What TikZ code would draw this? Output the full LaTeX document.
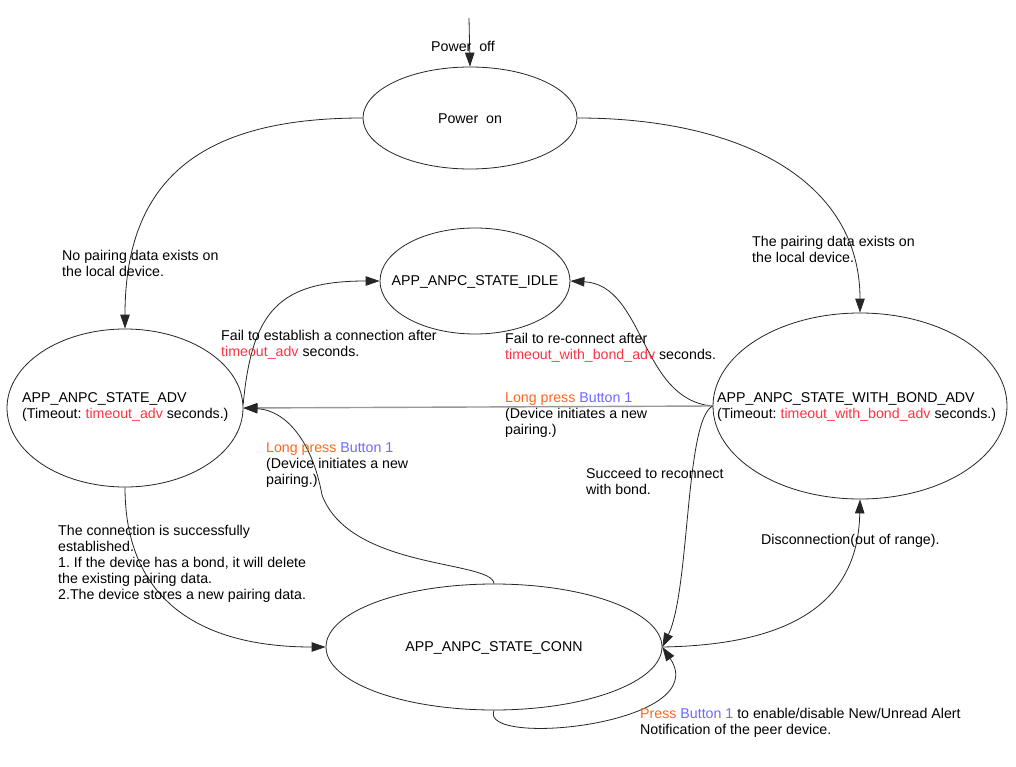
\documentclass[tikz,border=0pt]{standalone}
\usepackage{fontspec}
\setmainfont{Liberation Sans}
\usetikzlibrary{arrows.meta,shapes.geometric}
\definecolor{tmo}{RGB}{255,51,68}
\definecolor{lpress}{RGB}{255,102,34}
\definecolor{btn}{RGB}{110,105,255}
\frenchspacing
\begin{document}
\begin{tikzpicture}[x=1pt,y=-1pt,
  statebox/.style={draw=black!85, line width=0.8pt, ellipse, inner sep=0pt},
  txt/.style={inner sep=0pt, align=left, font=\fontsize{14.2}{16}\selectfont},
  lbl/.style={txt, anchor=west},
  arr/.style={draw=black!85, line width=0.8pt, -{Triangle[length=14pt,width=9.5pt]}},
  grayarr/.style={draw=black!40, line width=1.4pt, -{Triangle[length=14pt,width=9.5pt,color=black]}}
]
\useasboundingbox[fill=white] (0,0) rectangle (1016,767);

% states
\node[statebox, minimum width=214pt, minimum height=102pt] (pon) at (470,118) {};
\node[statebox, minimum width=190pt, minimum height=106pt] (idle) at (475,281) {};
\node[statebox, minimum width=236pt, minimum height=158pt] (adv) at (125,408) {};
\node[statebox, minimum width=294pt, minimum height=186pt] (wb) at (860,406) {};
\node[statebox, minimum width=336pt, minimum height=126pt] (conn) at (494,647) {};

% state texts
\node[txt] (pont) at (470,119) {Power~~on};
\node[txt] (idlet) at (475,282) {APP\_ANPC\_STATE\_IDLE};
\node[lbl] (advt) at (22,407) {APP\_ANPC\_STATE\_ADV\\(Timeout: \textcolor{tmo}{timeout\_adv} seconds.)};
\node[lbl] (wbt) at (717,407) {APP\_ANPC\_STATE\_WITH\_BOND\_ADV\\(Timeout: \textcolor{tmo}{timeout\_with\_bond\_adv} seconds.)};
\node[txt] (connt) at (494,648) {APP\_ANPC\_STATE\_CONN};

% entry
\coordinate (start) at (469,18);
\draw[arr] (start) -- (pon.north);
\node[txt] (poff) at (463,46) {Power~~off};

% transitions
\draw[arr] (pon.west) .. controls (200,118) and (125,180) .. (adv.north);
\draw[arr] (pon.east) .. controls (740,118) and (860,180) .. (wb.north);
\draw[arr] (adv.2) .. controls (252,310) and (280,281) .. (idle.west);
\draw[arr] (wb.west) .. controls (640,400) and (645,285) .. (idle.east);
\draw[grayarr] (wb.west) -- (adv.east);
\draw[arr] (conn.north) .. controls (492,560) and (350,570) .. (322,495)
                        .. controls (312,440) and (285,410) .. (adv.east);
\draw[arr] (adv.south) .. controls (125,600) and (200,647) .. (conn.west);
\draw[arr] (wb.west) .. controls (685,420) and (690,590) .. (conn.east);
\draw[arr] (conn.east) .. controls (780,645) and (858,610) .. (wb.south);
\draw[arr] (conn.south) .. controls (478,748) and (715,725) .. (conn.east);

% transition labels
\node[lbl] (l1) at (62,263) {No pairing data exists on\\the local device.};
\node[lbl] (l2) at (752,249) {The pairing data exists on\\the local device.};
\node[lbl] (l3) at (221,345) {Fail to establish a connection after\\\textcolor{tmo}{timeout\_adv} seconds.};
\node[lbl] (l4) at (505,348) {Fail to re-connect after\\\textcolor{tmo}{timeout\_with\_bond\_adv} seconds.};
\node[lbl] (l5) at (505,415) {\textcolor{lpress}{Long press} \textcolor{btn}{Button 1}\\(Device initiates a new\\pairing.)};
\node[lbl] (l6) at (266,465) {\textcolor{lpress}{Long press} \textcolor{btn}{Button 1}\\(Device initiates a new\\pairing.)};
\node[lbl] (l7) at (586,481) {Succeed to reconnect\\with bond.};
\node[lbl] (l8) at (58,564) {The connection is successfully\\established.\\1. If the device has a bond, it will delete\\the existing pairing data.\\2.The device stores a new pairing data.};
\node[lbl] (l9) at (761,541) {Disconnection(out of range).};
\node[lbl] (l10) at (640,723) {\textcolor{lpress}{Press} \textcolor{btn}{Button 1} to enable/disable New/Unread Alert\\Notification of the peer device.};
\end{tikzpicture}
\end{document}
